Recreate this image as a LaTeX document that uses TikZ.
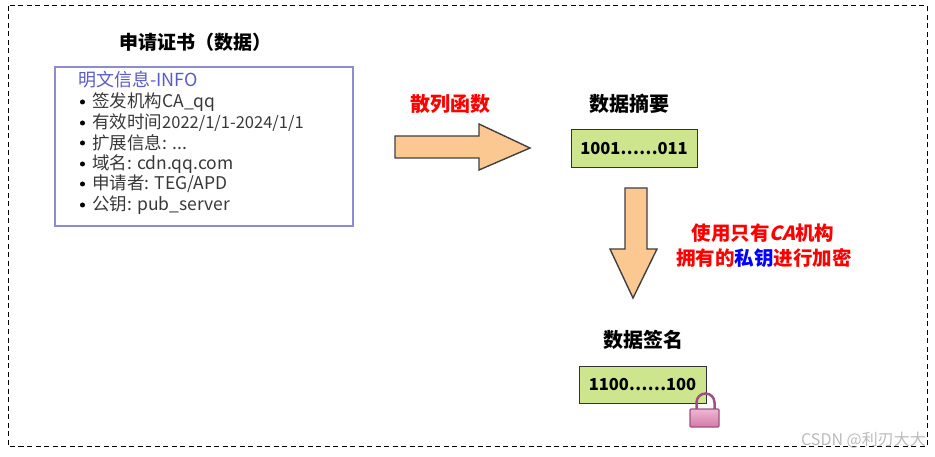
\documentclass[tikz,border=0pt]{standalone}
\usepackage{fontspec}
\setmainfont{Noto Sans CJK SC}
\newfontfamily\slantcjk{Noto Sans CJK SC}[FakeSlant=0.22]
\definecolor{infoborder}{HTML}{8C8CD2}
\definecolor{infotext}{HTML}{5A5AC8}
\definecolor{bodytext}{HTML}{383838}
\definecolor{arrowfill}{HTML}{FCC891}
\definecolor{arrowline}{HTML}{404040}
\definecolor{boxfill}{HTML}{CDE68E}
\definecolor{lockline}{HTML}{A0507E}
\definecolor{locktop}{HTML}{ECB8D2}
\definecolor{lockbot}{HTML}{D57AA8}
\definecolor{wm}{HTML}{BBBBBB}
\tikzset{
  title/.style={font=\fontsize{20}{22}\selectfont\bfseries, text=black, inner sep=0pt},
  infoline/.style={anchor=west, font=\fontsize{17.5}{19}\selectfont, text=bodytext, inner sep=0pt},
  bulletdot/.style={circle, fill=black, inner sep=0pt, minimum size=5pt},
  blockarrow/.style={fill=arrowfill, draw=arrowline, line width=1.4pt, line join=miter},
  databox/.style={draw=black!80, fill=boxfill, line width=1pt, minimum width=126pt, minimum height=38pt, inner sep=0pt, font=\fontsize{16.5}{18}\selectfont\bfseries},
  redlabel/.style={font=\fontsize{19.5}{21}\selectfont\bfseries, text=red, inner sep=0pt},
}
\begin{document}
\begin{tikzpicture}[x=1pt,y=-1pt]
\useasboundingbox (0,0) rectangle (935,457);
% outer dashed frame
\draw[black, line width=1pt, dash pattern=on 5pt off 3.5pt] (8,6) rectangle (927,446);

% title
\node[title, font=\fontsize{19}{21}\selectfont\bfseries] (title) at (195,42) {申请证书（数据）};

% info box
\node[draw=infoborder, line width=1.5pt, minimum width=298pt, minimum height=159pt, inner sep=0pt] (info) at (204,146.5) {};
\node[infoline, text=infotext, font=\fontsize{18}{20}\selectfont] (l0) at (78,80) {明文信息-INFO};
\node[bulletdot] (b1) at (82.5,102) {};
\node[infoline] (l1) at (92,102) {签发机构CA\_qq};
\node[bulletdot] (b2) at (82.5,123) {};
\node[infoline] (l2) at (92,123) {有效时间{\fontsize{16.5}{18}\selectfont 2022/1/1-2024/1/1}};
\node[bulletdot] (b3) at (82.5,143) {};
\node[infoline] (l3) at (92,143) {扩展信息: ...};
\node[bulletdot] (b4) at (82.5,164) {};
\node[infoline] (l4) at (92,164) {域名: cdn.qq.com};
\node[bulletdot] (b5) at (82.5,184) {};
\node[infoline] (l5) at (92,184) {申请者: TEG/APD};
\node[bulletdot] (b6) at (82.5,205) {};
\node[infoline] (l6) at (92,205) {公钥: pub\_server};

% hash label and right arrow
\node[redlabel, font=\fontsize{20}{22}\selectfont\bfseries] (hash) at (450,104) {散列函数};
\draw[blockarrow] (395,136) -- (479,136) -- (479,124) -- (530,148) -- (479,170) -- (479,158) -- (395,158) -- cycle;

% digest
\node[title] (digestlabel) at (629,104) {数据摘要};
\node[databox] (digest) at (634,148.5) {1001……011};

% down arrow
\draw[blockarrow] (625,188) -- (647,188) -- (647,249) -- (657,249) -- (633,298) -- (610,249) -- (625,249) -- cycle;

% encryption label
\node[redlabel] (enc1) at (763,233) {使用只有{\slantcjk\bfseries CA}机构};
\node[redlabel] (enc2) at (764,258) {拥有的\textcolor{blue}{私钥}进行加密};

% signature
\node[title] (siglabel) at (643,340) {数据签名};
\node[databox, minimum width=127pt, minimum height=37pt] (sig) at (642.5,384.5) {1100……100};

% lock
\draw[lockline, line width=2.5pt] (696.5,410) -- (696.5,402.5) arc[start angle=180, end angle=0, radius=9pt] -- (714.5,410);
\shade[top color=locktop, bottom color=lockbot, draw=lockline, line width=1.2pt, rounded corners=1pt] (690,409) rectangle (719,427);

% watermark
\node[anchor=east, font=\fontsize{16}{18}\selectfont, text=wm, inner sep=0pt] (wm) at (926,440) {CSDN @利刃大大};
\end{tikzpicture}
\end{document}
